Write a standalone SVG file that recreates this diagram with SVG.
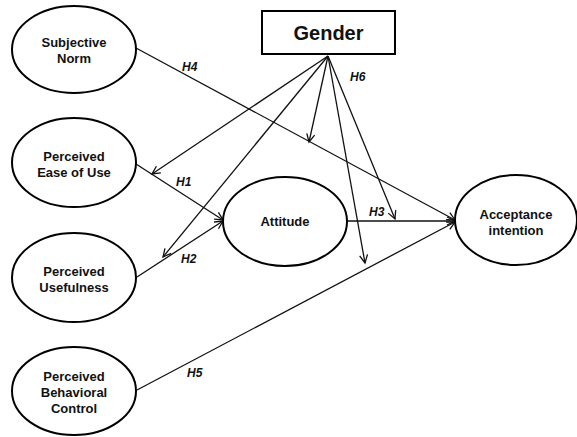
<svg xmlns="http://www.w3.org/2000/svg" width="577" height="437" viewBox="0 0 577 437">
<style>
.node ellipse{fill:#fff;stroke:#000;stroke-width:2}
.node rect{fill:#fff;stroke:#000;stroke-width:2}
.lbl{font-family:"Liberation Sans",Arial,sans-serif;font-weight:bold;font-size:13px;text-anchor:middle;fill:#111}
.big{font-size:20px}
.h{font-family:"Liberation Sans",Arial,sans-serif;font-weight:bold;font-style:italic;font-size:12px;fill:#111}
#connectors line{stroke:#111;stroke-width:1.3;fill:none;marker-end:url(#arr)}
</style>
<defs>
<marker id="arr" markerUnits="userSpaceOnUse" markerWidth="12" markerHeight="12" viewBox="0 0 12 12" refX="10" refY="6" orient="auto">
<path d="M2,2 L10,6 L2,10" fill="none" stroke="#111" stroke-width="1.3"/>
</marker>
</defs>
<rect width="577" height="437" fill="#fff"/>
<g id="connectors">
<line x1="136" y1="48" x2="455" y2="220"/>
<line x1="136" y1="164" x2="223" y2="220"/>
<line x1="137" y1="277" x2="223" y2="221"/>
<line x1="347" y1="221" x2="455" y2="221"/>
<line x1="137" y1="390" x2="455" y2="222"/>
<line x1="328" y1="56" x2="152" y2="174"/>
<line x1="328" y1="56" x2="163" y2="257"/>
<line x1="328" y1="56" x2="309" y2="142"/>
<line x1="328" y1="56" x2="365" y2="263"/>
<line x1="328" y1="56" x2="395" y2="219"/>
<text class="h" x="182" y="71">H4</text>
<text class="h" x="176" y="186">H1</text>
<text class="h" x="181" y="263">H2</text>
<text class="h" x="187" y="377">H5</text>
<text class="h" x="350" y="81">H6</text>
<text class="h" x="369" y="216">H3</text>
</g>
<g id="subjective-norm" class="node">
<ellipse cx="74" cy="49.5" rx="62" ry="43.5"/>
<text class="lbl" x="74" y="47">Subjective</text>
<text class="lbl" x="74" y="63">Norm</text>
</g>
<g id="ease-of-use" class="node">
<ellipse cx="74" cy="162.5" rx="62" ry="44.5"/>
<text class="lbl" x="74" y="161">Perceived</text>
<text class="lbl" x="74" y="177">Ease of Use</text>
</g>
<g id="usefulness" class="node">
<ellipse cx="74" cy="277.5" rx="62" ry="44.5"/>
<text class="lbl" x="74" y="276">Perceived</text>
<text class="lbl" x="74" y="292">Usefulness</text>
</g>
<g id="behavioral-control" class="node">
<ellipse cx="74" cy="391" rx="62" ry="44"/>
<text class="lbl" x="74" y="381">Perceived</text>
<text class="lbl" x="74" y="397">Behavioral</text>
<text class="lbl" x="74" y="413">Control</text>
</g>
<g id="attitude" class="node">
<ellipse cx="285" cy="221.5" rx="62" ry="44.5"/>
<text class="lbl" x="285" y="226">Attitude</text>
</g>
<g id="acceptance" class="node">
<ellipse cx="516" cy="220" rx="61" ry="45"/>
<text class="lbl" x="516" y="219">Acceptance</text>
<text class="lbl" x="516" y="235">intention</text>
</g>
<g id="gender" class="node">
<rect x="262" y="11" width="133" height="43"/>
<text class="lbl big" x="328.5" y="40">Gender</text>
</g>
</svg>
